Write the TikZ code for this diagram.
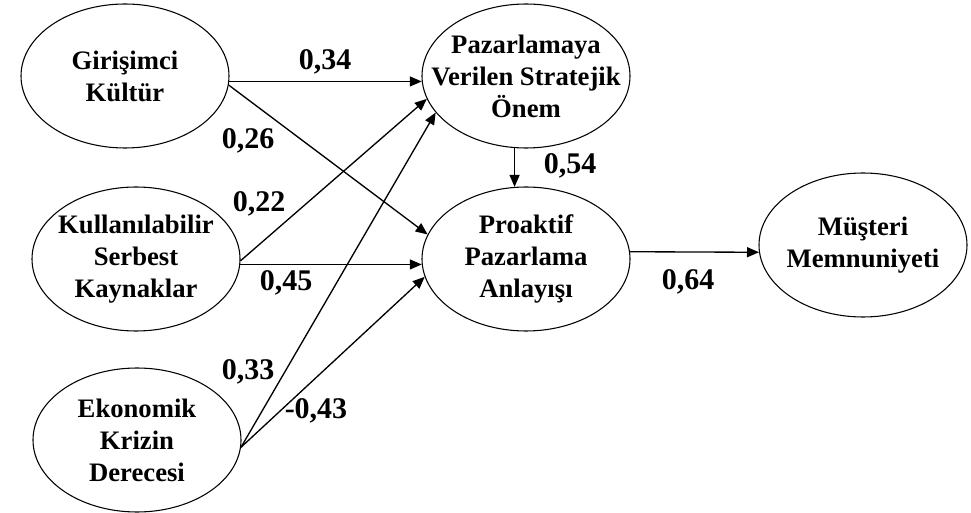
\documentclass[tikz,border=0pt]{standalone}
\usepackage{fontspec}
\setmainfont{Liberation Serif}
\usetikzlibrary{shapes.geometric,arrows.meta}
\begin{document}
\begin{tikzpicture}[x=0.75pt,y=-0.75pt,
  var/.style={draw, ellipse, line width=0.8pt, minimum width=156pt, minimum height=108pt, inner sep=0pt},
  txt/.style={align=center, inner sep=0pt, font=\bfseries\fontsize{20}{24}\selectfont},
  coef/.style={inner sep=0pt, font=\bfseries\fontsize{22.5}{26}\selectfont},
  arr/.style={-{Triangle[length=9pt,width=7.5pt]}, line width=1pt}]
\fill[white] (0,0) rectangle (971,513);
\useasboundingbox (0,0) rectangle (971,513);
% variables
\node[var] (G) at (125,76) {};
\node[var] (K) at (136,259) {};
\node[var] (E) at (137,440) {};
\node[var] (P) at (526,76) {};
\node[var] (A) at (526,259) {};
\node[var] (M) at (863,245) {};
\node[txt] (Gt) at (G) {Girişimci\\Kültür};
\node[txt] (Kt) at (K) {Kullanılabilir\\Serbest\\Kaynaklar};
\node[txt] (Et) at (E) {Ekonomik\\Krizin\\Derecesi};
\node[txt] (Pt) at (P) {Pazarlamaya\\Verilen Stratejik\\Önem};
\node[txt] (At) at (A) {Proaktif\\Pazarlama\\Anlayışı};
\node[txt] (Mt) at (M) {Müşteri\\Memnuniyeti};
% paths
\draw[arr] (G.-3) -- (P.183);
\draw[arr] (G.-5) -- (A.166);
\draw[arr] (K.-1) -- (P.193);
\draw[arr] (K.-3) -- (A.183);
\draw[arr] (E.-4) -- (P.202);
\draw[arr] (E.-4) -- (A.190);
\draw[arr] (P.261) -- (A.99);
\draw[arr] (A.4) -- (M.184);
% coefficients
\node[coef] (c1) at (325,62) {0,34};
\node[coef] (c2) at (248,141) {0,26};
\node[coef] (c3) at (259,204) {0,22};
\node[coef] (c4) at (286,283) {0,45};
\node[coef] (c5) at (248,372) {0,33};
\node[coef] (c6) at (316,411) {-0,43};
\node[coef] (c7) at (570,166) {0,54};
\node[coef] (c8) at (688,282) {0,64};
\end{tikzpicture}
\end{document}
